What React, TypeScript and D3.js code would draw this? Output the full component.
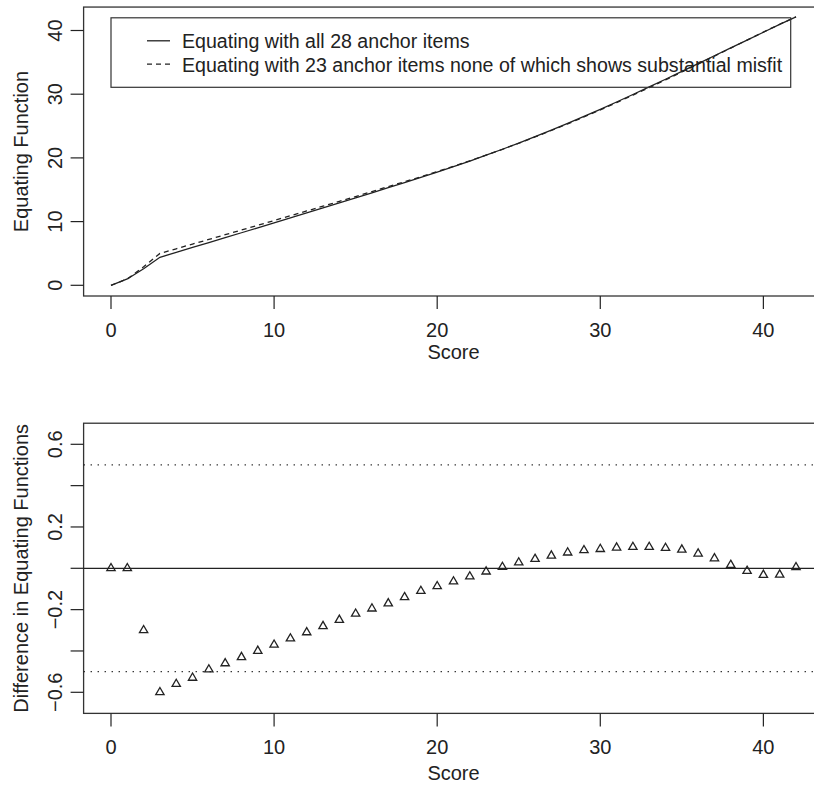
import React from 'react';
import * as d3 from 'd3';

// score points 0..42
const scores = [
  0, 1, 2, 3, 4, 5, 6, 7, 8, 9, 10, 11, 12, 13, 14, 15, 16, 17, 18, 19, 20, 21,
  22, 23, 24, 25, 26, 27, 28, 29, 30, 31, 32, 33, 34, 35, 36, 37, 38, 39, 40, 41, 42,
];

// equating with all 28 anchor items
const equatingAll = [
  0, 1.0, 2.6, 4.4, 5.17, 5.94, 6.71, 7.48, 8.25, 9.02, 9.8, 10.58, 11.36, 12.14,
  12.93, 13.72, 14.52, 15.32, 16.12, 16.93, 17.75, 18.62, 19.51, 20.42, 21.36,
  22.33, 23.33, 24.36, 25.42, 26.51, 27.63, 28.78, 29.95, 31.14, 32.35, 33.57,
  34.8, 36.03, 37.26, 38.49, 39.72, 40.95, 42.15,
];

// equating with 23 anchor items
const equating23 = [
  0, 1.0, 2.9, 5.0, 5.73, 6.47, 7.2, 7.94, 8.68, 9.42, 10.17, 10.92, 11.67, 12.42,
  13.18, 13.94, 14.72, 15.49, 16.26, 17.04, 17.84, 18.68, 19.55, 20.44, 21.35,
  22.3, 23.29, 24.3, 25.34, 26.42, 27.54, 28.68, 29.85, 31.04, 32.25, 33.48,
  34.73, 35.98, 37.24, 38.5, 39.75, 40.98, 42.15,
];

// difference (all 28 minus 23)
const difference = [
  0, 0, -0.3, -0.6, -0.56, -0.53, -0.49, -0.46, -0.43, -0.4, -0.37, -0.34, -0.31,
  -0.28, -0.25, -0.22, -0.195, -0.17, -0.14, -0.11, -0.087, -0.064, -0.04, -0.016,
  0.006, 0.028, 0.045, 0.061, 0.076, 0.087, 0.093, 0.1, 0.103, 0.103, 0.098, 0.09,
  0.071, 0.048, 0.016, -0.013, -0.032, -0.031, 0.005,
];

const xTicks = [0, 10, 20, 30, 40];
const topYTicks = [0, 10, 20, 30, 40];
const bottomYTicks = [-0.6, -0.4, -0.2, 0, 0.2, 0.4, 0.6];
const bottomYLabels = ['-0.6', '', '-0.2', '', '0.2', '', '0.6'];
const refLines = [-0.5, 0.5];

const legendItems = [
  { label: 'Equating with all 28 anchor items', dash: null },
  { label: 'Equating with 23 anchor items none of which shows substantial misfit', dash: '5,4' },
];

const W = 814;
const H = 787;
const FONT = '"Liberation Sans", Arial, Helvetica, sans-serif';
const INK = '#222';

export default function App() {
  // shared x scale (R style 4% padding)
  const x = d3.scaleLinear().domain([0, 42]).range([111, 796]);
  const xPad = 42 * 0.04;
  const left = x(-xPad);
  const right = x(42 + xPad);

  const yTop = d3.scaleLinear().domain([0, 40]).range([285.3, 30.5]);
  const topBoxTop = yTop(42 + xPad);
  const topBoxBottom = yTop(-xPad);

  const yBot = d3.scaleLinear().domain([-0.6, 0.6]).range([692.3, 444.3]);
  const botBoxTop = yBot(0.702);
  const botBoxBottom = yBot(-0.702);

  const line = (ys: number[]) =>
    d3
      .line<number>()
      .x((_, i) => x(scores[i]))
      .y((d) => yTop(d))(ys) as string;

  const tri = d3.symbol().type(d3.symbolTriangle).size(30)() as string;

  const xAxis = (boxBottom: number, titleY: number) => (
    <g>
      {xTicks.map((t) => (
        <g key={t}>
          <line x1={x(t)} x2={x(t)} y1={boxBottom} y2={boxBottom + 13} stroke={INK} strokeWidth={1.2} />
          <text x={x(t)} y={boxBottom + 41} textAnchor="middle" fontSize={20} fill={INK} fontFamily={FONT}>
            {t}
          </text>
        </g>
      ))}
      <text x={(left + right) / 2} y={titleY} textAnchor="middle" fontSize={20} fill={INK} fontFamily={FONT}>
        Score
      </text>
    </g>
  );

  const yAxis = (
    scale: d3.ScaleLinear<number, number>,
    ticks: number[],
    labels: string[],
    title: string,
    midY: number
  ) => (
    <g>
      {ticks.map((t, i) => (
        <g key={t}>
          <line x1={left - 13} x2={left} y1={scale(t)} y2={scale(t)} stroke={INK} strokeWidth={1.2} />
          {labels[i] !== '' && (
            <text
              transform={`translate(${left - 22},${scale(t)}) rotate(-90)`}
              textAnchor="middle"
              fontSize={20}
              fill={INK}
              fontFamily={FONT}
            >
              {labels[i].replace('-', '\u2212')}
            </text>
          )}
        </g>
      ))}
      <text
        transform={`translate(28,${midY}) rotate(-90)`}
        textAnchor="middle"
        fontSize={20}
        fill={INK}
        fontFamily={FONT}
      >
        {title}
      </text>
    </g>
  );

  return (
    <svg width={W} height={H} style={{ position: 'absolute', left: 0, top: 0, background: '#fff' }}>
      {/* ---- top panel ---- */}
      <rect x={left} y={topBoxTop} width={right - left} height={topBoxBottom - topBoxTop} fill="none" stroke="#333" strokeWidth={1.3} />
      <path d={line(equatingAll)} fill="none" stroke={INK} strokeWidth={1.3} />
      <path d={line(equating23)} fill="none" stroke={INK} strokeWidth={1.3} strokeDasharray="5,4" />

      {/* legend */}
      <rect x={x(0)} y={17.8} width={790.7 - x(0)} height={87.3 - 17.8} fill="none" stroke="#333" strokeWidth={1.2} />
      {legendItems.map((item, i) => {
        const baseY = 48.3 + i * 23.4;
        return (
          <g key={item.label}>
            <line
              x1={147}
              x2={170}
              y1={baseY - 7.5}
              y2={baseY - 7.5}
              stroke={INK}
              strokeWidth={1.3}
              strokeDasharray={item.dash ?? undefined}
            />
            <text x={182} y={baseY} fontSize={19.6} fill={INK} fontFamily={FONT}>
              {item.label}
            </text>
          </g>
        );
      })}

      {xAxis(topBoxBottom, 359)}
      {yAxis(yTop, topYTicks, topYTicks.map(String), 'Equating Function', (topBoxTop + topBoxBottom) / 2)}

      {/* ---- bottom panel ---- */}
      <rect x={left} y={botBoxTop} width={right - left} height={botBoxBottom - botBoxTop} fill="none" stroke="#333" strokeWidth={1.3} />
      <line x1={left} x2={right} y1={yBot(0)} y2={yBot(0)} stroke={INK} strokeWidth={1.3} />
      {refLines.map((r) => (
        <line key={r} x1={left} x2={right} y1={yBot(r)} y2={yBot(r)} stroke={INK} strokeWidth={1.2} strokeDasharray="1.3,5.7" />
      ))}
      {difference.map((d, i) => (
        <path
          key={i}
          d={tri}
          transform={`translate(${x(scores[i])},${yBot(d)})`}
          fill="none"
          stroke={INK}
          strokeWidth={1.3}
        />
      ))}

      {xAxis(botBoxBottom, 780)}
      {yAxis(yBot, bottomYTicks, bottomYLabels, 'Difference in Equating Functions', (botBoxTop + botBoxBottom) / 2)}
    </svg>
  );
}
